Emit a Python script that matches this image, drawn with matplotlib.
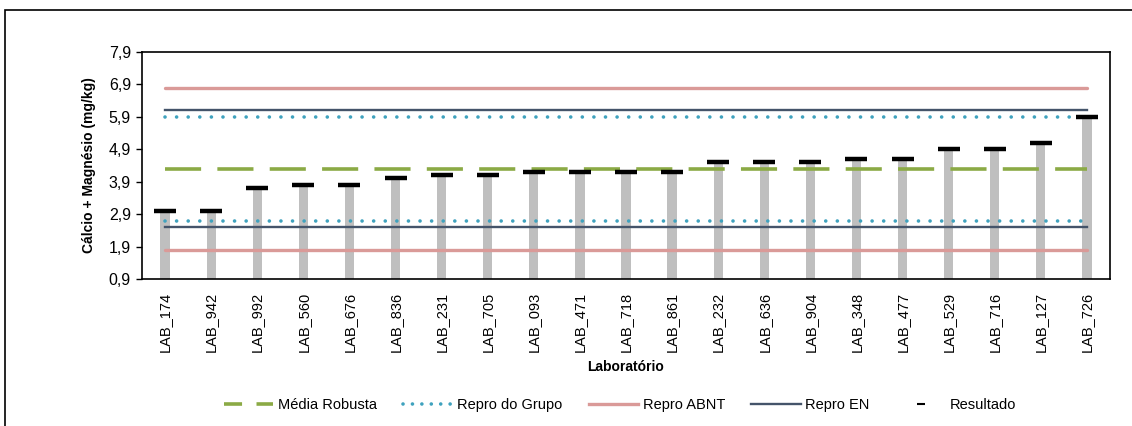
import matplotlib.pyplot as plt
from matplotlib.patches import Rectangle
from matplotlib.lines import Line2D
from matplotlib.ticker import FuncFormatter

plt.rcParams['font.family'] = ['Liberation Sans', 'DejaVu Sans']

labs = ["LAB_174", "LAB_942", "LAB_992", "LAB_560", "LAB_676", "LAB_836", "LAB_231",
        "LAB_705", "LAB_093", "LAB_471", "LAB_718", "LAB_861", "LAB_232", "LAB_636",
        "LAB_904", "LAB_348", "LAB_477", "LAB_529", "LAB_716", "LAB_127", "LAB_726"]
resultado = [3.0, 3.0, 3.7, 3.8, 3.8, 4.0, 4.1, 4.1, 4.2, 4.2, 4.2, 4.2, 4.5, 4.5,
             4.5, 4.6, 4.6, 4.9, 4.9, 5.1, 5.9]
media = 4.3
repro_grupo = (2.7, 5.9)
repro_abnt = (1.8, 6.8)
repro_en = (2.5, 6.1)
y_base = 0.9

W, H = 1132, 426
fig = plt.figure(figsize=(W / 100, H / 100), dpi=100)
ax = fig.add_axes([142 / W, 1 - 279 / H, (1110 - 142) / W, (279 - 52) / H])

x = list(range(len(labs)))
heights = [r - y_base for r in resultado]
ax.bar(x, heights, bottom=y_base, width=0.2, color='#BFBFBF', zorder=1)

xs = [x[0], x[-1]]
c_med, c_grp, c_abnt, c_en = '#8BAA45', '#3FA2BE', '#DA9A98', '#44546A'
for v in repro_abnt:
    ax.plot(xs, [v, v], color=c_abnt, lw=2.4, zorder=2, solid_capstyle='round')
for v in repro_en:
    ax.plot(xs, [v, v], color=c_en, lw=1.7, zorder=2)
for v in repro_grupo:
    ax.plot(xs, [v, v], color=c_grp, lw=2.6, ls=(0, (0.01, 3.2)),
            dash_capstyle='round', zorder=3)
ax.plot(xs, [media, media], color=c_med, lw=2.6, ls=(0, (10, 4.5)), zorder=3)

ax.plot(x, resultado, ls='none', marker='_', ms=16, mew=3.2, color='black', zorder=4)

ax.set_xlim(-0.5, len(labs) - 0.5)
ax.set_ylim(0.9, 7.9)
ax.set_yticks([0.9 + i for i in range(8)])
ax.yaxis.set_major_formatter(FuncFormatter(lambda v, p: f"{v:.1f}".replace('.', ',')))
ax.set_xticks(x)
ax.set_xticklabels(labs, rotation=90, fontsize=10.5)
ax.tick_params(axis='x', length=0, pad=9)
ax.tick_params(axis='y', labelsize=11.5, length=4, width=1, pad=4)
for s in ax.spines.values():
    s.set_linewidth(1.2)

ax.set_ylabel('Cálcio + Magnésio (mg/kg)', fontsize=10, fontweight='bold', labelpad=9)
ax.set_xlabel('Laboratório', fontsize=10, fontweight='bold', labelpad=6)

handles = [
    Line2D([], [], color=c_med, lw=2.6, ls=(0, (5, 4))),
    Line2D([], [], color=c_grp, lw=2.6, ls=(0, (0.01, 2.6)), dash_capstyle='round'),
    Line2D([], [], color=c_abnt, lw=2.4),
    Line2D([], [], color=c_en, lw=1.7),
    Line2D([], [], ls='none', marker='_', ms=6, mew=1.5, color='black'),
]
names = ['Média Robusta', 'Repro do Grupo', 'Repro ABNT', 'Repro EN', 'Resultado']
fig.legend(handles, names, loc='center', bbox_to_anchor=(620 / W, 1 - 405 / H),
           ncol=5, frameon=False, fontsize=10.5, handlelength=3.4, handletextpad=0.3,
           columnspacing=1.8)

fig.patches.append(Rectangle((5 / W, -0.1), 1.2, 1 - 10 / H + 0.1, transform=fig.transFigure,
                             fill=False, edgecolor='black', lw=1.2))

fig.savefig('out.png', dpi=100)
